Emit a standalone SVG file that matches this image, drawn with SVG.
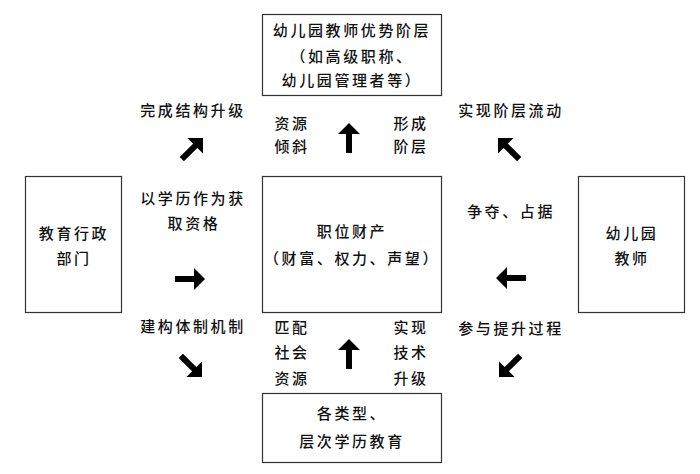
<svg xmlns="http://www.w3.org/2000/svg" width="700" height="474" viewBox="0 0 700 474">
<style>
  .box { fill: #ffffff; stroke: #333333; stroke-width: 1.2; }
  text { font-family: "Noto Sans CJK SC", "Noto Sans", sans-serif; font-size: 15px; letter-spacing: 2.6px; fill: #111111; text-anchor: middle; font-weight: 500; }
  .arrow { fill: #000000; }
</style>
<defs>
  <path id="arr" d="M0,0 L11,11 L3,11 L3,30 L-3,30 L-3,11 L-11,11 Z"/>
</defs>
<rect x="0" y="0" width="700" height="474" fill="#ffffff"/>

<g id="node-top">
  <rect class="box" x="262.5" y="14.5" width="179" height="81"/>
  <text x="352" y="35.5">幼儿园教师优势阶层</text>
  <text x="352" y="61.5">（如高级职称、</text>
  <text x="352" y="85.5">幼儿园管理者等）</text>
</g>

<g id="node-left">
  <rect class="box" x="25.5" y="176.5" width="96" height="136"/>
  <text x="74" y="239">教育行政</text>
  <text x="74" y="264">部门</text>
</g>

<g id="node-center">
  <rect class="box" x="262.5" y="176.5" width="179" height="136"/>
  <text x="352" y="237">职位财产</text>
  <text x="352" y="264">（财富、权力、声望）</text>
</g>

<g id="node-right">
  <rect class="box" x="578.5" y="176.5" width="106" height="136"/>
  <text x="632" y="239">幼儿园</text>
  <text x="632" y="264">教师</text>
</g>

<g id="node-bottom">
  <rect class="box" x="262.5" y="393.5" width="179" height="69"/>
  <text x="352" y="419">各类型、</text>
  <text x="352" y="447">层次学历教育</text>
</g>

<g id="connectors">
  <use href="#arr" class="arrow" transform="translate(349,123)"/>
  <use href="#arr" class="arrow" transform="translate(349,339)"/>
  <use href="#arr" class="arrow" transform="translate(205,279) rotate(90)"/>
  <use href="#arr" class="arrow" transform="translate(496,278) rotate(-90)"/>
  <use href="#arr" class="arrow" transform="translate(203,138) rotate(45)"/>
  <use href="#arr" class="arrow" transform="translate(498,138) rotate(-45)"/>
  <use href="#arr" class="arrow" transform="translate(202,377) rotate(135)"/>
  <use href="#arr" class="arrow" transform="translate(499,377) rotate(-135)"/>
</g>

<g id="labels">
  <text x="292" y="129">资源</text>
  <text x="292" y="152">倾斜</text>
  <text x="411" y="129">形成</text>
  <text x="411" y="152">阶层</text>

  <text x="193" y="116">完成结构升级</text>
  <text x="193" y="204">以学历作为获</text>
  <text x="194" y="229">取资格</text>
  <text x="193" y="332">建构体制机制</text>

  <text x="511" y="116">实现阶层流动</text>
  <text x="511" y="217">争夺、占据</text>
  <text x="511" y="334">参与提升过程</text>

  <text x="292" y="333">匹配</text>
  <text x="292" y="358">社会</text>
  <text x="292" y="384">资源</text>
  <text x="411" y="333">实现</text>
  <text x="411" y="358">技术</text>
  <text x="411" y="384">升级</text>
</g>
</svg>
